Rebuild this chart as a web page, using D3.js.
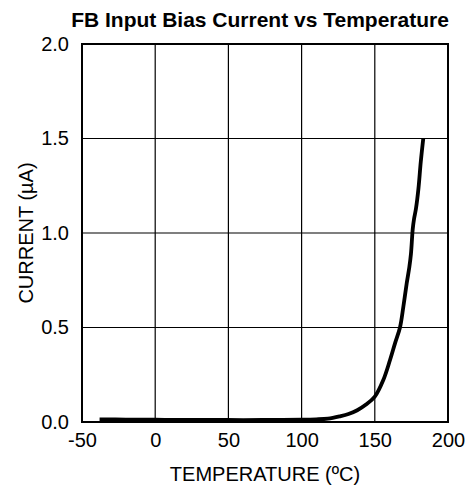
<!DOCTYPE html>
<html><head><meta charset="utf-8">
<script src="https://cdn.jsdelivr.net/npm/d3@7"></script>
<style>body{margin:0;background:#fff}svg{display:block}text{font-family:"Liberation Sans",Arial,sans-serif}</style>
</head><body>
<script>
const temps = [-38, -20, 0, 20, 40, 60, 80, 100, 110, 118, 126, 132, 138, 144, 150, 155.8, 160.4, 163.8, 167.2, 169.5, 171.8, 173.6, 174.7, 175.9, 176.8, 178.1, 179.8, 181.4, 183.1];
const currents = [0.014, 0.013, 0.012, 0.011, 0.011, 0.010, 0.011, 0.012, 0.014, 0.018, 0.030, 0.042, 0.062, 0.092, 0.134, 0.222, 0.328, 0.416, 0.50, 0.61, 0.734, 0.82, 0.89, 1.02, 1.074, 1.128, 1.234, 1.376, 1.5];
const xTicks = [-50, 0, 50, 100, 150, 200];
const yTicks = [0, 0.5, 1.0, 1.5, 2.0];
const title = "FB Input Bias Current vs Temperature";
const xTitle = "TEMPERATURE (ºC)";
const yTitle = "CURRENT (µA)";

const W = 468, H = 487;
const m = {l: 82, r: 20, t: 44, b: 65};
const svg = d3.select("body").append("svg").attr("width", W).attr("height", H);
const x = d3.scaleLinear().domain([-50, 200]).range([m.l, W - m.r]);
const y = d3.scaleLinear().domain([0, 2]).range([H - m.b, m.t]);

// grid
svg.append("g").selectAll("line").data(xTicks.slice(1, -1)).join("line")
  .attr("x1", d => x(d)).attr("x2", d => x(d)).attr("y1", y(0)).attr("y2", y(2))
  .attr("stroke", "#000").attr("stroke-width", 1.2);
svg.append("g").selectAll("line").data(yTicks.slice(1, -1)).join("line")
  .attr("y1", d => y(d)).attr("y2", d => y(d)).attr("x1", x(-50)).attr("x2", x(200))
  .attr("stroke", "#000").attr("stroke-width", 1.2);

// axes
const xa = svg.append("g").attr("transform", `translate(0,${y(0)})`)
  .call(d3.axisBottom(x).tickValues(xTicks).tickSize(0).tickPadding(11).tickFormat(d => String(d)));
const ya = svg.append("g").attr("transform", `translate(${x(-50)},0)`)
  .call(d3.axisLeft(y).tickValues(yTicks).tickSize(0).tickPadding(13).tickFormat(d3.format(".1f")));
[xa, ya].forEach(a => {
  a.select(".domain").remove();
  a.selectAll("text").attr("font-size", 20).attr("fill", "#000").style("font-family", '"Liberation Sans",Arial,sans-serif');
});

// frame
svg.append("rect").attr("x", x(-50)).attr("y", y(2)).attr("width", x(200) - x(-50)).attr("height", y(0) - y(2))
  .attr("fill", "none").attr("stroke", "#000").attr("stroke-width", 2);

// curve
const pts = temps.map((t, i) => [t, currents[i]]);
svg.append("path").datum(pts)
  .attr("d", d3.line().x(d => x(d[0])).y(d => y(d[1])).curve(d3.curveCatmullRom.alpha(0.5)))
  .attr("fill", "none").attr("stroke", "#000").attr("stroke-width", 3.8).attr("stroke-linejoin", "round");

// titles
svg.append("text").attr("x", 260).attr("y", 27).attr("text-anchor", "middle")
  .attr("font-size", 21).attr("font-weight", "bold").text(title);
svg.append("text").attr("x", (x(-50) + x(200)) / 2).attr("y", 481).attr("text-anchor", "middle")
  .attr("font-size", 20).text(xTitle);
svg.append("text").attr("transform", `translate(33,${(y(0) + y(2)) / 2}) rotate(-90)`).attr("text-anchor", "middle")
  .attr("font-size", 20).text(yTitle);
</script>
</body></html>
